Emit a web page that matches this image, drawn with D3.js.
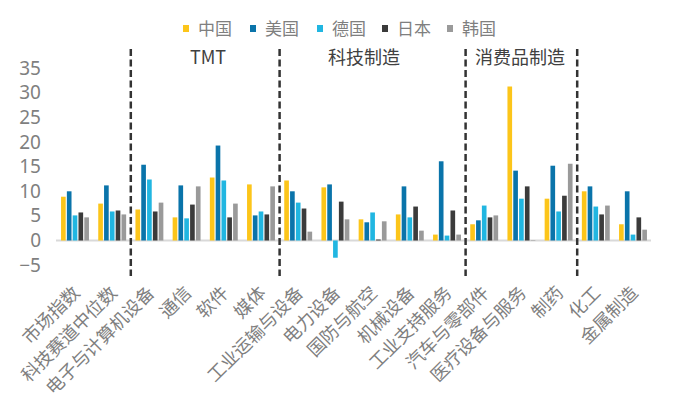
<!DOCTYPE html>
<html><head><meta charset="utf-8">
<script src="https://cdn.jsdelivr.net/npm/d3@7/dist/d3.min.js"></script>
<style>
body{margin:0;background:#fff;}
text{font-family:"Noto Sans CJK SC","Noto Sans",sans-serif;}
</style></head>
<body><svg id="c" width="674" height="413"></svg>
<script>
const categories = ["市场指数","科技赛道中位数","电子与计算机设备","通信","软件","媒体","工业运输与设备","电力设备","国防与航空","机械设备","工业支持服务","汽车与零部件","医疗设备与服务","制药","化工","金属制造"];
const seriesNames = ["中国","美国","德国","日本","韩国"];
const china  = [8.9, 7.5, 6.3, 4.7, 12.8, 11.4, 12.2, 10.8, 4.3, 5.3, 1.2, 3.3, 31.3, 8.5, 10.0, 3.3];
const usa    = [10.0, 11.2, 15.4, 11.2, 19.3, 5.1, 10.0, 11.4, 3.7, 11.0, 16.1, 4.1, 14.2, 15.2, 11.0, 10.0];
const germany= [5.1, 5.9, 12.4, 4.5, 12.2, 5.9, 7.7, -3.5, 5.7, 4.7, 1.0, 7.1, 8.5, 5.9, 6.9, 1.2];
const japan  = [5.7, 6.1, 5.9, 7.3, 4.7, 5.3, 6.5, 7.9, 0.2, 6.9, 6.1, 4.7, 11.0, 9.1, 5.3, 4.7];
const korea  = [4.7, 5.3, 7.7, 11.0, 7.5, 11.0, 1.8, 4.3, 3.9, 2.0, 1.2, 5.1, 0.1, 15.6, 7.1, 2.2];
const yTicks = [-5,0,5,10,15,20,25,30,35];
const sections = [{name:"TMT", from:2, to:6},{name:"科技制造", from:6, to:11},{name:"消费品制造", from:11, to:14}];
const dividerAfter = [2,6,11,14];
const colors = ["#FCC51A","#0A74AA","#21B6E1","#3B3B3B","#9A9A9A"];

const seriesVals = [china, usa, germany, japan, korea];
const svg = d3.select("#c");
const x0 = d3.scaleBand().domain(d3.range(categories.length)).range([56.4, 651.6]).paddingInner(0.25).paddingOuter(0.125);
const x1 = d3.scaleBand().domain(d3.range(5)).range([0, x0.bandwidth()]).paddingInner(0.2);
const y = d3.scaleLinear().domain([-5, 35]).range([265.1, 68.3]);

// zero line
svg.append("line").attr("x1",56).attr("x2",651).attr("y1",y(0)).attr("y2",y(0))
  .attr("stroke","#D9D9D9").attr("stroke-width",2);

// bars
seriesVals.forEach((vals, s) => {
  svg.append("g").selectAll("rect").data(vals).join("rect")
    .attr("x", (d,i) => x0(i) + x1(s))
    .attr("width", x1.bandwidth())
    .attr("y", d => y(Math.max(0,d)))
    .attr("height", d => Math.abs(y(d) - y(0)))
    .attr("fill", colors[s]);
});

// y axis
const yAxis = d3.axisLeft(y).tickValues(yTicks).tickSize(0).tickPadding(0);
const ya = svg.append("g").attr("transform","translate(41,0)").call(yAxis);
ya.select(".domain").remove();
ya.selectAll("text").attr("fill","#7F7F7F").attr("font-size",19).style("font-family","'Noto Sans',sans-serif");

// dividers
const step = x0.step();
dividerAfter.forEach(k => {
  const xx = 56.4 + k*step;
  svg.append("line").attr("x1",xx).attr("x2",xx).attr("y1",49).attr("y2",276)
    .attr("stroke","#333").attr("stroke-width",2.5).attr("stroke-dasharray","7,3.5");
});

// section titles
const secX = [208, 364, 520];
sections.forEach((s,i) => {
  svg.append("text").attr("x",secX[i]).attr("y",64).attr("text-anchor","middle")
    .attr("font-size",18).attr("fill","#404040").text(s.name);
});

// x labels
svg.append("g").selectAll("text").data(categories).join("text")
  .attr("transform",(d,i)=>`translate(${x0(i)+x0.bandwidth()/2+6},${294}) rotate(-45)`)
  .attr("text-anchor","end").attr("font-size",18).attr("fill","#7F7F7F").text(d=>d);

// legend
const legX = [183, 250, 317, 382, 447];
seriesNames.forEach((n,i) => {
  svg.append("rect").attr("x",legX[i]).attr("y",25).attr("width",6).attr("height",7).attr("fill",colors[i]);
  svg.append("text").attr("x",legX[i]+15).attr("y",35).attr("font-size",17).attr("fill","#7F7F7F").text(n);
});
</script></body></html>
